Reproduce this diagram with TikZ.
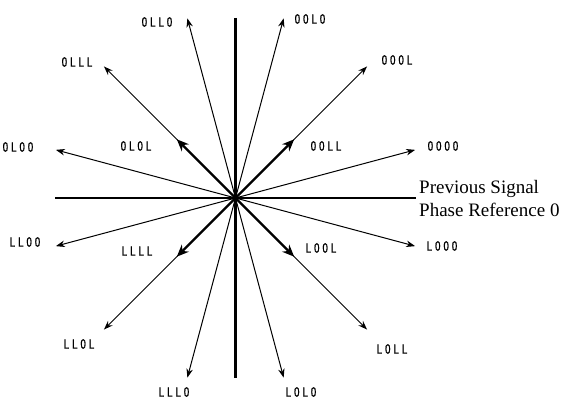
\documentclass[tikz,border=0pt]{standalone}
\usepackage{fontspec}
\setmainfont{Liberation Serif}
\newfontfamily\labfont[FakeStretch=0.72,LetterSpace=22,FakeBold=1.2]{Liberation Sans}
\usetikzlibrary{arrows.meta}
\tikzset{
  axis/.style={line width=2.8pt},
  thinarrow/.style={line width=1pt,-{Stealth[length=9pt,width=6.5pt]}},
  thickarrow/.style={line width=2.4pt,-{Stealth[length=12pt,width=10pt]}},
  lab/.style={font=\labfont\fontsize{13.5}{14}\selectfont,inner sep=0pt},
  caption/.style={font=\fontsize{19}{23}\selectfont,inner sep=0pt,align=left,anchor=north west},
}
\begin{document}
\begin{tikzpicture}[x=1pt,y=-1pt]
\useasboundingbox (0,0) rectangle (569,406);
\coordinate (O) at (235.5,198);
\coordinate (xl) at (55,198);
\coordinate (xr) at (416,198);
\coordinate (yt) at (235.5,18);
\coordinate (yb) at (235.5,378);
\draw[axis] (xl) -- (xr);
\draw[axis] (yt) -- (yb);
% long arrows
\foreach \n/\a in {a/15,b/45,c/75,d/105,e/135,f/165,g/195,h/225,i/255,j/285,k/315,l/345}{
  \coordinate (t\n) at ([shift={(-\a:186)}]O);
  \draw[thinarrow] (O) -- (t\n);
}
% short thick arrows
\foreach \n/\a in {b/45,e/135,h/225,k/315}{
  \coordinate (s\n) at ([shift={(-\a:83)}]O);
  \draw[thickarrow] (O) -- (s\n);
}
% labels
\node[lab] (l0110) at (157,22) {0LL0};
\node[lab] (l0010) at (310,19) {00L0};
\node[lab] (l0111) at (77,62) {0LLL};
\node[lab] (l0101) at (136,146) {0L0L};
\node[lab] (l0100) at (18,147) {0L00};
\node[lab] (l0001) at (397,60) {000L};
\node[lab] (l0011) at (326,146) {00LL};
\node[lab] (l0000) at (443,146) {0000};
\node[lab] (l1100) at (25,242) {LL00};
\node[lab] (l1111) at (137,251) {LLLL};
\node[lab] (l1101) at (79,344) {LL0L};
\node[lab] (l1110) at (174,392) {LLL0};
\node[lab] (l1010) at (301,392) {L0L0};
\node[lab] (l1001) at (321,248) {L00L};
\node[lab] (l1000) at (442,246) {L000};
\node[lab] (l1011) at (392,349) {L0LL};
\node[caption] (cap) at (419,180) {Previous Signal\\Phase Reference 0};
\end{tikzpicture}
\end{document}
